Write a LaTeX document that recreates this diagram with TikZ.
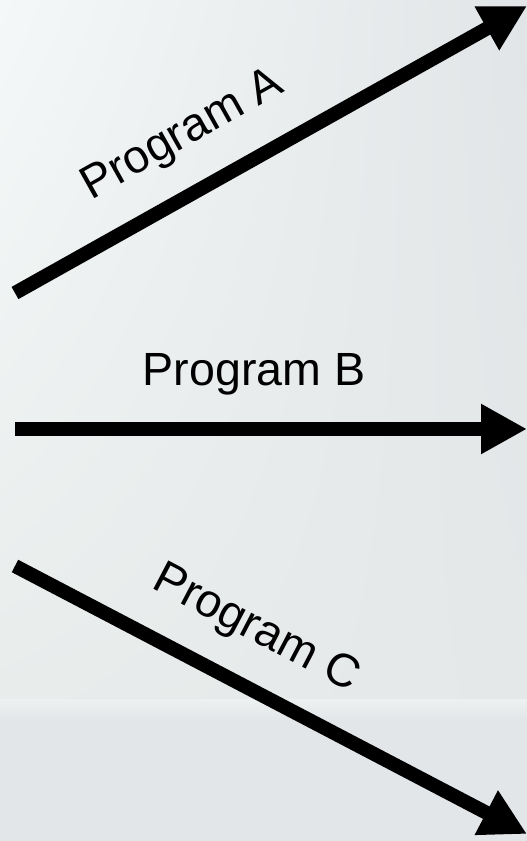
\documentclass[tikz,border=0pt]{standalone}
\usepackage{fontspec}
\setmainfont{Liberation Sans}
\usetikzlibrary{arrows.meta,shadings}

\definecolor{bgtopleft}{HTML}{F4F8F8}
\definecolor{bgtopright}{HTML}{E1E5E7}
\definecolor{bglowleft}{HTML}{E8ECEB}
\definecolor{bglowright}{HTML}{E4E8E9}
\definecolor{bgband}{HTML}{EDF0F0}
\definecolor{bgbottom}{HTML}{E3E6E9}

\tikzset{
    progarrow/.style={line width=0.28cm, -{Triangle[length=0.92cm,width=0.94cm]}},
    proglabel/.style={sloped, above=0.54cm, inner sep=0pt, font=\fontsize{26.5}{30}\selectfont}
}

\begin{document}
\begin{tikzpicture}
            % background
            \shade[upper left=bgtopleft, upper right=bgtopright, lower left=bglowleft, lower right=bglowright] (0, 2.82) rectangle (10.54, 16.82);
            \shade[top color=bgband, bottom color=bgbottom] (0, 2.40) rectangle (10.54, 2.82);
            \fill[bgbottom] (0, 0) rectangle (10.54, 2.40);
            \useasboundingbox (0, 0) rectangle (10.54, 16.82);
            % start and end points
            \coordinate (startA) at (0.30, 10.96);
            \coordinate (endA) at (10.54, 16.70);
            \coordinate (startB) at (0.30, 8.24);
            \coordinate (endB) at (10.54, 8.24);
            \coordinate (startC) at (0.30, 5.50);
            \coordinate (endC) at (10.54, 0.14);
            % arrows
            \draw[progarrow] (startA) -- node[proglabel, pos=0.38] (labelA) {Program A} (endA);
            \draw[progarrow] (startB) -- node[proglabel, pos=0.467] (labelB) {Program B} (endB);
            \draw[progarrow] (startC) -- node[proglabel, pos=0.42] (labelC) {Program C} (endC);
        \end{tikzpicture}
\end{document}
